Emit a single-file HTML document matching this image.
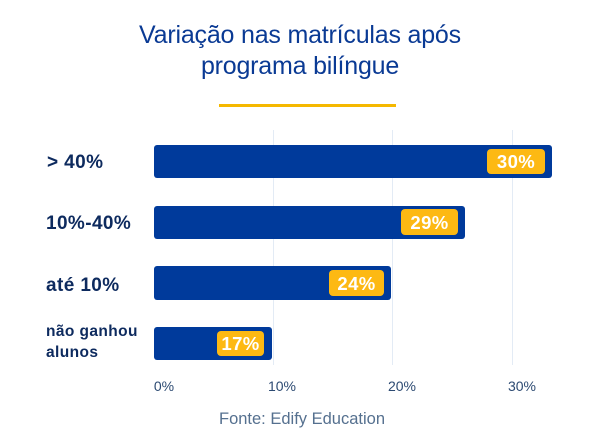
<!DOCTYPE html>
<html><head><meta charset="utf-8"><style>
body{margin:0;background:#fff;}
svg{display:block;font-family:"Liberation Sans",sans-serif;}
</style></head><body>
<svg width="605" height="438" viewBox="0 0 605 438" xmlns="http://www.w3.org/2000/svg">
<rect width="605" height="438" fill="#fff"/>
<text x="300" y="43" text-anchor="middle" font-size="25" fill="#0a3a94" letter-spacing="-0.2">Variação nas matrículas após</text>
<text x="300" y="74" text-anchor="middle" font-size="25" fill="#0a3a94" letter-spacing="-0.2">programa bilíngue</text>
<rect x="219" y="104" width="177" height="3" fill="#f5b800"/>
<g stroke="#e3ebf5" stroke-width="1">
<line x1="273.5" y1="130" x2="273.5" y2="365"/>
<line x1="392.5" y1="130" x2="392.5" y2="365"/>
<line x1="512.5" y1="130" x2="512.5" y2="365"/>
</g>
<g fill="#003a9b">
<rect x="154" y="145" width="398" height="33" rx="3"/>
<rect x="154" y="206" width="311" height="33" rx="3"/>
<rect x="154" y="266" width="237" height="34" rx="3"/>
<rect x="154" y="327" width="118" height="33" rx="3"/>
</g>
<g fill="#fdb913">
<rect x="487" y="149" width="58" height="25" rx="4"/>
<rect x="401" y="209" width="57" height="26" rx="4"/>
<rect x="329" y="270" width="55" height="26" rx="4"/>
<rect x="217" y="331" width="47" height="25" rx="4"/>
</g>
<g fill="#fff" font-weight="bold" font-size="18.5" text-anchor="middle" letter-spacing="0.4">
<text x="516" y="168">30%</text>
<text x="429.5" y="229">29%</text>
<text x="356.5" y="290">24%</text>
<text x="240.5" y="350">17%</text>
</g>
<g fill="#0d2a5e" font-weight="bold" letter-spacing="0.4">
<text x="47" y="168" font-size="19">&gt; 40%</text>
<text x="46" y="229" font-size="19">10%-40%</text>
<text x="46" y="291" font-size="19">até 10%</text>
<text x="46" y="336" font-size="15.5">não ganhou</text>
<text x="46" y="357" font-size="15.5">alunos</text>
</g>
<g fill="#2c4a72" font-size="14" text-anchor="middle">
<text x="164" y="391">0%</text>
<text x="282" y="391">10%</text>
<text x="402" y="391">20%</text>
<text x="522" y="391">30%</text>
</g>
<text x="302" y="424" text-anchor="middle" font-size="16.5" fill="#55708f">Fonte: Edify Education</text>
</svg>
</body></html>
